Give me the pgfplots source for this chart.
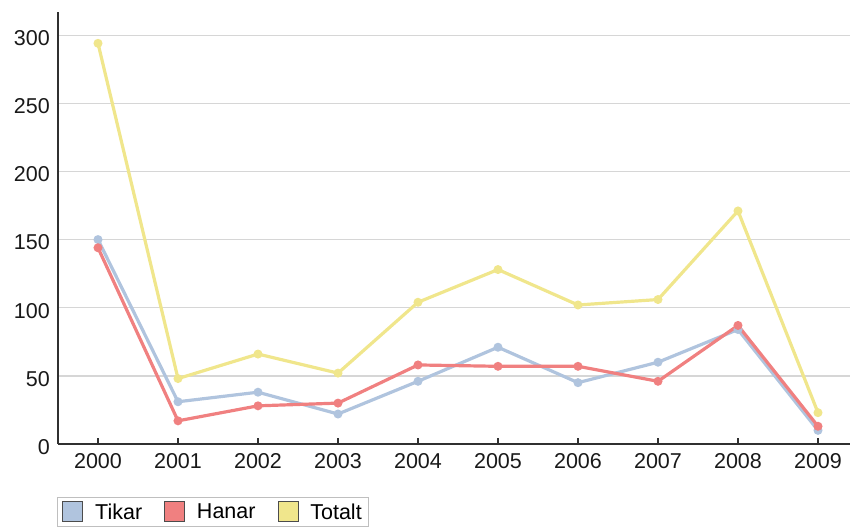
\documentclass[border=0pt]{standalone}
\usepackage{fontspec}
\setmainfont{Liberation Sans}
\usepackage{pgfplots}
\pgfplotsset{compat=1.18}
\definecolor{tikarc}{HTML}{B0C4DE}
\definecolor{hanarc}{HTML}{F08080}
\definecolor{totaltc}{HTML}{F0E68C}
\definecolor{gridc}{HTML}{D6D6D6}
\definecolor{axc}{HTML}{303030}
\begin{document}
\begin{tikzpicture}[x=1pt,y=1pt]
\useasboundingbox (0,0) rectangle (852,529);
\begin{axis}[
  at={(58pt,85pt)}, anchor=south west,
  width=792pt, height=432pt, scale only axis,
  xmin=-0.5, xmax=9.4, ymin=0, ymax=317,
  axis lines*=left,
  axis line style={axc, line width=1.6pt},
  xtick={0,...,9},
  xticklabels={2000,2001,2002,2003,2004,2005,2006,2007,2008,2009},
  ytick={0,50,...,300},
  ymajorgrids,
  grid style={gridc, line width=1.3pt},
  tick align=inside,
  major tick length=6pt,
  xtick style={axc, line width=1.2pt},
  ytick style={draw=none},
  /pgf/number format/assume math mode=true,
  tick label style={font=\fontsize{21.5}{23}\selectfont, text=black!90},
  yticklabel style={anchor=east, inner sep=0pt, xshift=-8pt, yshift=-3pt},
  xticklabel style={anchor=north, inner sep=0pt, yshift=-9pt},
  legend columns=3,
  legend style={at={(0,0)}, anchor=north west, xshift=-1pt, yshift=-53pt,
    draw=gray!50, line width=0.8pt, inner xsep=5pt, inner ysep=3.5pt,
    font=\fontsize{21.5}{23}\selectfont,
    /tikz/every odd column/.append style={column sep=10pt},
    /tikz/every even column/.append style={column sep=20pt}},
  legend cell align=left,
]
\addplot[tikarc, line width=3.2pt, mark=*, mark size=2.8pt,
  legend image code/.code={\draw[fill=tikarc, draw=black!70, line width=0.8pt] (0pt,-9pt) rectangle (20pt,11pt);}]
  coordinates {(0,150) (1,31) (2,38) (3,22) (4,46) (5,71) (6,45) (7,60) (8,84) (9,10)};
\addlegendentry{Tikar}
\addplot[hanarc, line width=3.2pt, mark=*, mark size=2.8pt,
  legend image code/.code={\draw[fill=hanarc, draw=black!70, line width=0.8pt] (0pt,-9pt) rectangle (20pt,11pt);}]
  coordinates {(0,144) (1,17) (2,28) (3,30) (4,58) (5,57) (6,57) (7,46) (8,87) (9,13)};
\addlegendentry{Hanar}
\addplot[totaltc, line width=3.2pt, mark=*, mark size=2.8pt,
  legend image code/.code={\draw[fill=totaltc, draw=black!70, line width=0.8pt] (0pt,-9pt) rectangle (20pt,11pt);}]
  coordinates {(0,294) (1,48) (2,66) (3,52) (4,104) (5,128) (6,102) (7,106) (8,171) (9,23)};
\addlegendentry{Totalt}
\end{axis}
\end{tikzpicture}
\end{document}
